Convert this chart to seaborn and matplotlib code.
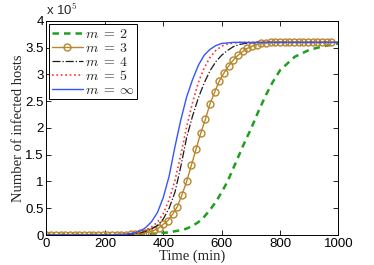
import matplotlib
matplotlib.use("Agg")
import matplotlib.pyplot as plt
import seaborn as sns

# time grid (min) shared by the smooth curves
time_grid = [0, 100, 200, 250, 280, 300, 320, 340, 360, 380, 400, 420, 440, 460,
             480, 500, 520, 540, 560, 580, 600, 620, 640, 660, 680, 700, 725, 750,
             775, 800, 850, 900, 950, 1000]

# number of infected hosts, in units of 1e5
hosts_m2 = [0, 0, 0, 0.001, 0.003, 0.005, 0.008, 0.012, 0.02, 0.03, 0.04, 0.05,
            0.07, 0.09, 0.12, 0.17, 0.24, 0.34, 0.47, 0.62, 0.8, 1.0, 1.25, 1.5,
            1.75, 1.98, 2.3, 2.6, 2.86, 3.08, 3.33, 3.46, 3.53, 3.58]
hosts_m4 = [0, 0, 0, 0.002, 0.01, 0.02, 0.04, 0.07, 0.11, 0.18, 0.3, 0.5, 0.8,
            1.28, 1.82, 2.22, 2.56, 2.84, 3.07, 3.24, 3.36, 3.45, 3.52, 3.56,
            3.58, 3.59, 3.6, 3.6, 3.6, 3.6, 3.6, 3.6, 3.6, 3.6]
hosts_m5 = [0, 0, 0, 0.003, 0.015, 0.03, 0.05, 0.09, 0.15, 0.24, 0.4, 0.66, 1.02,
            1.5, 2.02, 2.47, 2.85, 3.12, 3.32, 3.45, 3.53, 3.57, 3.59, 3.6, 3.6,
            3.6, 3.6, 3.6, 3.6, 3.6, 3.6, 3.6, 3.6, 3.6]
hosts_inf = [0, 0, 0, 0.005, 0.02, 0.04, 0.07, 0.14, 0.25, 0.42, 0.7, 1.1, 1.65,
             2.15, 2.58, 2.9, 3.17, 3.36, 3.47, 3.54, 3.58, 3.59, 3.6, 3.6, 3.6,
             3.6, 3.6, 3.6, 3.6, 3.6, 3.6, 3.6, 3.6, 3.6]

# m = 3 is drawn with its samples as open circles
time_m3 = [0, 16, 32, 48, 64, 80, 96, 112, 128, 144, 160, 176, 192, 208, 224, 240,
           256, 272, 288, 304, 320, 336, 352, 368, 384, 400, 416, 432, 448, 464,
           480, 496, 512, 528, 544, 560, 576, 592, 608, 624, 640, 656, 672, 688,
           704, 720, 736, 752, 768, 784, 800, 816, 832, 848, 864, 880, 896, 912,
           928, 944, 960, 976]
hosts_m3 = [0, 0, 0, 0, 0, 0, 0, 0, 0, 0, 0, 0, 0, 0, 0, 0,
            0, 0.005, 0.01, 0.02, 0.03, 0.04, 0.055, 0.085, 0.13, 0.2, 0.27, 0.39,
            0.53, 0.75, 1.0, 1.3, 1.6, 1.9, 2.16, 2.45, 2.67, 2.88, 3.03, 3.16,
            3.27, 3.36, 3.43, 3.49, 3.53, 3.56, 3.58, 3.59, 3.6, 3.6, 3.6, 3.6,
            3.6, 3.6, 3.6, 3.6, 3.6, 3.6, 3.6, 3.6, 3.6, 3.6]

labels = [r'$m\;=\;2$', r'$m\;=\;3$', r'$m\;=\;4$', r'$m\;=\;5$', r'$m\;=\;\infty$']
xticks = [0, 200, 400, 600, 800, 1000]
yticks = [0, 0.5, 1, 1.5, 2, 2.5, 3, 3.5, 4]
ytick_labels = ['0', '0.5', '1', '1.5', '2', '2.5', '3', '3.5', '4']

sns.set_style("ticks")
plt.rcParams['font.family'] = ['Liberation Sans', 'DejaVu Sans']
plt.rcParams['mathtext.fontset'] = 'cm'

fig = plt.figure(figsize=(3.74, 2.65), dpi=100)
ax = fig.add_axes([0.1243, 0.1132, 0.7807, 0.8076])

gold = '#b8862b'
sns.lineplot(x=time_grid, y=hosts_m2, ax=ax, color='#1ea01e', lw=1.8,
             linestyle=(0, (2.6, 2.0)), label=labels[0])
sns.lineplot(x=time_m3, y=hosts_m3, ax=ax, color=gold, lw=1.0, marker='o',
             markersize=5, markerfacecolor='none', markeredgecolor=gold,
             markeredgewidth=1.0, label=labels[1])
sns.lineplot(x=time_grid, y=hosts_m4, ax=ax, color='#1a1a1a', lw=0.9,
             linestyle='-.', label=labels[2])
sns.lineplot(x=time_grid, y=hosts_m5, ax=ax, color='#ff3030', lw=1.2,
             linestyle=':', label=labels[3])
sns.lineplot(x=time_grid, y=hosts_inf, ax=ax, color='#3355ff', lw=1.0,
             label=labels[4])

ax.set_xlim(0, 1000)
ax.set_ylim(0, 4)
ax.set_xticks(xticks)
ax.set_yticks(yticks)
ax.set_yticklabels(ytick_labels)
ax.tick_params(direction='in', top=True, right=True, length=3.5, width=0.6,
               labelsize=9.5, pad=2, colors='black')
for sp in ax.spines.values():
    sp.set_linewidth(0.7)
    sp.set_color('black')

ax.set_xlabel('Time (min)', family='Liberation Serif', fontsize=10.5)
ax.set_ylabel('Number of infected hosts', family='Liberation Serif', fontsize=10.5)
ax.xaxis.set_label_coords(0.5, -0.07)
ax.yaxis.set_label_coords(-0.074, 0.5)

ax.text(0.0, 1.028, r'x 10$^{\mathsf{5}}$', transform=ax.transAxes,
        fontsize=9.5, va='baseline', ha='left')

leg = ax.legend(loc='upper left', fontsize=10, frameon=True, fancybox=False,
                edgecolor='black', framealpha=1, borderpad=0.2,
                labelspacing=0.0, handlelength=2.2, handletextpad=0.15,
                borderaxespad=0.2)
leg.get_frame().set_linewidth(0.7)

fig.savefig('out.png', dpi=100)
